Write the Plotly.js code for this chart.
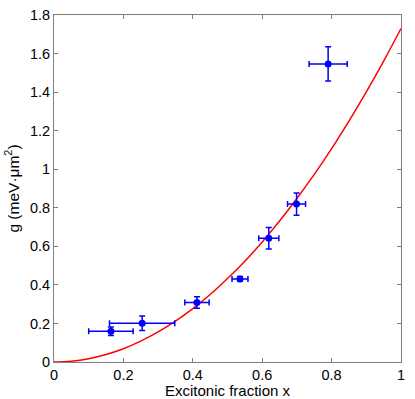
<!DOCTYPE html>
<html>
<head>
<meta charset="utf-8">
<script src="https://cdn.plot.ly/plotly-3.0.1.min.js"></script>
<style>
  body { margin: 0; background: #fff; }
  #chart { width: 415px; height: 399px; }
</style>
</head>
<body>
<div id="chart"></div>
<script>
// measured points
let frac = [0.164, 0.254, 0.412, 0.536, 0.619, 0.699, 0.790];
let gval = [0.160, 0.201, 0.309, 0.431, 0.642, 0.819, 1.546];
let fracErr = [0.064, 0.094, 0.035, 0.023, 0.029, 0.026, 0.055];
let gErr = [0.022, 0.037, 0.030, 0.012, 0.056, 0.058, 0.089];

// fitted curve
let fitX = [0, 0.05, 0.1, 0.15, 0.2, 0.25, 0.3, 0.35, 0.4, 0.45, 0.5,
            0.55, 0.6, 0.65, 0.7, 0.75, 0.8, 0.85, 0.9, 0.95, 1.0];
let fitY = [0, 0.004, 0.017, 0.039, 0.069, 0.108, 0.156, 0.212, 0.277, 0.350, 0.433,
            0.523, 0.623, 0.731, 0.848, 0.973, 1.107, 1.250, 1.401, 1.561, 1.730];

let fit = {
    x: fitX,
    y: fitY,
    mode: 'lines',
    line: { color: '#ff0000', width: 1.5, shape: 'spline' },
    hoverinfo: 'skip'
};

let meas = {
    x: frac,
    y: gval,
    mode: 'markers',
    marker: { color: '#0000ff', size: 7 },
    error_x: { type: 'data', array: fracErr, visible: true, color: '#0000ff', thickness: 1.5, width: 3 },
    error_y: { type: 'data', array: gErr, visible: true, color: '#0000ff', thickness: 1.5, width: 3 }
};

let axisStyle = {
    showgrid: false,
    zeroline: false,
    showline: true,
    linecolor: '#7f7f7f',
    linewidth: 1,
    mirror: 'ticks',
    ticks: 'inside',
    ticklen: 4,
    tickcolor: '#7f7f7f',
    tickfont: { size: 14.5, color: '#000' }
};

let layout = {
    width: 415,
    height: 399,
    margin: { l: 54, r: 14, t: 15, b: 37 },
    paper_bgcolor: '#fff',
    plot_bgcolor: '#fff',
    showlegend: false,
    font: { family: 'Liberation Sans, Arial, sans-serif', color: '#000' },
    xaxis: Object.assign({}, axisStyle, {
        range: [0, 1],
        tick0: 0,
        dtick: 0.2,
        title: { text: 'Excitonic fraction x', font: { size: 15 }, standoff: 2 }
    }),
    yaxis: Object.assign({}, axisStyle, {
        range: [0, 1.8],
        tick0: 0,
        dtick: 0.2,
        title: { text: 'g (meV·μm<sup>2</sup>)', font: { size: 15.5 }, standoff: 6 }
    })
};

Plotly.newPlot('chart', [fit, meas], layout, { staticPlot: true });
</script>
</body>
</html>
